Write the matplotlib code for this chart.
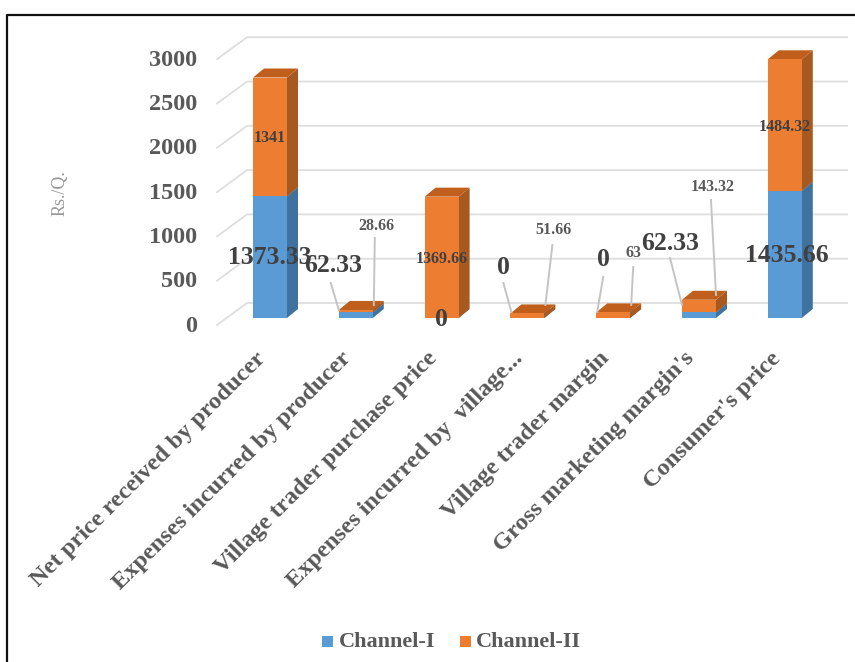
import matplotlib
matplotlib.use('Agg')
import matplotlib.pyplot as plt

plt.rcParams['font.family'] = ['Liberation Serif', 'DejaVu Serif']

# Data (Rs./Q.)
categories = ['Net price received by producer', 'Expenses incurred by producer',
              'Village trader purchase price', 'Expenses incurred by  village...',
              'Village trader margin', "Gross marketing margin's", "Consumer's price"]
channel_1 = [1373.33, 62.33, 0, 0, 0, 62.33, 1435.66]
channel_2 = [1341, 28.66, 1369.66, 51.66, 63, 143.32, 1484.32]
y_ticks = [0, 500, 1000, 1500, 2000, 2500, 3000]

# Label and leader offsets from the bar foot, in pixels
label_1_offset = [(0, 60), (-23, 53), (0, -1), (-24, 51), (-10, 59), (-29, 75), (2, 63)]
label_2_offset = [(0, 180), (21, 92), (0, 59), (26, 88), (20, 65), (14, 131), (0, 191)]
leader_1 = [None, ((-25, 35), (-17, 8)), None, ((-24, 35), (-16, 6)), ((-10, 41), (-16, 6)), ((-29, 60), (-17, 13)), None]
leader_2 = [None, ((19, 80), (18, 13)), None, ((25, 73), (18, 13)), ((20, 51), (18, 13)), ((12, 118), (17, 23)), None]

blue, blue_side, blue_top = '#5b9bd5', '#3f729f', '#4a80b2'
orange, orange_top, orange_side = '#ed7d31', '#c05f1c', '#a8591f'
grey = '#595959'
dark = '#404040'
grid_col = '#dedede'
leader_col = '#c4c4c4'

W, H = 855, 662
fig = plt.figure(figsize=(W / 100, H / 100), dpi=100)

# axes spans the front plane: x index 0 at 270 px, y value 0 at 318 px
x0_px, x_step = 270, 85.8
y0_px, y_scale = 318, 0.0886
left, right = 217, 847
ax = fig.add_axes([left / W, 1 - y0_px / H, (right - left) / W, 3000 * y_scale / H])
ax.set_xlim((left - x0_px) / x_step, (right - x0_px) / x_step)
ax.set_ylim(0, 3000)
ax.axis('off')

# depth of one bar and of the floor, in data units
bar_w = 34 / x_step
dx, dy = 11 / x_step, 9 / y_scale
wall_dx, wall_dy = 30 / x_step, 22 / y_scale
floor_y = -7 / y_scale


def block(i, low, high, front, top, side):
    l, r = i - bar_w / 2, i + bar_w / 2
    ax.fill([r, r + dx, r + dx, r], [low, low + dy, high + dy, high], color=side, lw=0, clip_on=False, zorder=3 + i)
    ax.fill([l, l + dx, r + dx, r], [high, high + dy, high + dy, high], color=top, lw=0, clip_on=False, zorder=3 + i)
    ax.fill([l, r, r, l], [low, low, high, high], color=front, lw=0, clip_on=False, zorder=3 + i)


# Gridlines on the back wall and the side wall
xa, xb = ax.get_xlim()
for v in y_ticks:
    yy = v + floor_y
    ax.plot([xa, xa + wall_dx, xb], [yy, yy + wall_dy, yy + wall_dy], color=grid_col, lw=1.3, clip_on=False, zorder=1)
    ax.annotate(str(v), (xa, yy), xytext=(-20, -1), textcoords='offset pixels', ha='right', va='center',
                fontsize=17.5, fontweight='bold', color=grey, annotation_clip=False)

# Stacked bars
for i in range(len(categories)):
    block(i, 0, channel_1[i], blue, blue_top, blue_side)
    block(i, channel_1[i], channel_1[i] + channel_2[i], orange, orange_top, orange_side)

# Leader lines are drawn in pixel offsets from the bar foot
for i in range(len(categories)):
    for ends in (leader_1[i], leader_2[i]):
        if ends is None:
            continue
        px, py = ax.transData.transform((i, 0))
        fig.add_artist(plt.Line2D([(px + ends[0][0]) / W, (px + ends[1][0]) / W],
                                  [(py + ends[0][1]) / H, (py + ends[1][1]) / H],
                                  color=leader_col, lw=1.4, zorder=15))

# Channel-I labels, large
for i, v in enumerate(channel_1):
    ax.annotate(f'{v:g}', (i, 0), xytext=label_1_offset[i], textcoords='offset pixels', ha='center', va='center',
                fontsize=18.5, fontweight='bold', color=dark, zorder=20, annotation_clip=False)

# Channel-II labels, small
for i, v in enumerate(channel_2):
    ax.annotate(f'{v:g}', (i, 0), xytext=label_2_offset[i], textcoords='offset pixels', ha='center', va='center',
                fontsize=11.5, fontweight='bold', color=dark if leader_2[i] is None else grey, zorder=20,
                annotation_clip=False)

# Category labels
for i, c in enumerate(categories):
    ax.annotate(c, (i, 0), xytext=(-15, -30), textcoords='offset pixels', ha='right', va='top', rotation=45,
                rotation_mode='anchor', fontsize=17.6, fontweight='bold', color=grey, annotation_clip=False)

fig.text(60 / W, 1 - 193 / H, 'Rs./Q.', rotation=90, ha='center', va='center', fontsize=13, color='#999999')

# Legend
fig.add_artist(plt.Rectangle((322 / W, 1 - 647 / H), 11 / W, 11 / H, transform=fig.transFigure, color=blue, lw=0))
fig.add_artist(plt.Rectangle((460 / W, 1 - 647 / H), 11 / W, 11 / H, transform=fig.transFigure, color=orange, lw=0))
fig.text(339 / W, 1 - 642 / H, 'Channel-I', ha='left', va='center', fontsize=16, fontweight='bold', color=grey)
fig.text(476 / W, 1 - 642 / H, 'Channel-II', ha='left', va='center', fontsize=16, fontweight='bold', color=grey)

# Outer frame
fig.add_artist(plt.Line2D([6.5 / W, 6.5 / W, 1], [0, 1 - 14.5 / H, 1 - 14.5 / H], color='#111111', lw=1.6))

fig.savefig('out.png', dpi=100)
